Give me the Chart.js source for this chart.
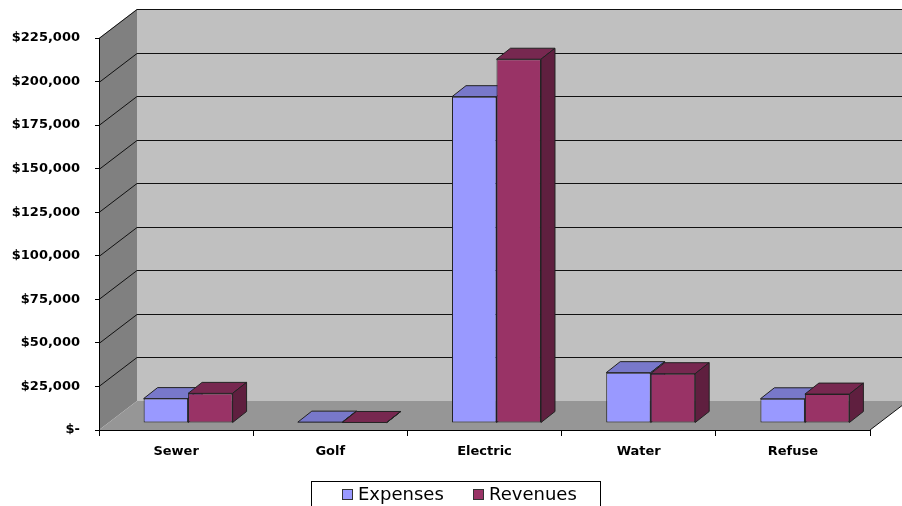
<!DOCTYPE html>
<html>
<head>
<meta charset="utf-8">
<script src="https://cdn.jsdelivr.net/npm/chart.js@4"></script>
<style>
  body { margin: 0; background: #fff; }
</style>
</head>
<body>
<canvas id="chart" width="902" height="506"></canvas>
<script>
const categories = ['Sewer', 'Golf', 'Electric', 'Water', 'Refuse'];
const expenses = [14000, 500, 187300, 28900, 13900];
const revenues = [17000, 300, 208800, 28300, 16600];
const seriesNames = ['Expenses', 'Revenues'];

// oblique depth of the walls, and where the bars sit inside it
const DEPTH_X = 38, DEPTH_Y = -29;
const BAR_SHIFT_X = 12, BAR_SHIFT_Y = -7;
const BAR_DX = 14, BAR_DY = -11;

const faceColors = [
  { front: '#9999FF', top: '#7878CA', side: '#6868B0' },
  { front: '#993366', top: '#772850', side: '#5F1F3F' }
];

function poly(ctx, pts, fill, stroke) {
  ctx.beginPath();
  ctx.moveTo(pts[0][0], pts[0][1]);
  for (let i = 1; i < pts.length; i++) ctx.lineTo(pts[i][0], pts[i][1]);
  ctx.closePath();
  if (fill) { ctx.fillStyle = fill; ctx.fill(); }
  if (stroke) { ctx.strokeStyle = stroke; ctx.lineWidth = 1; ctx.stroke(); }
}

const wallsPlugin = {
  id: 'walls',
  beforeDraw(chart) {
    const ctx = chart.ctx;
    const y = chart.scales.y;
    const a = chart.chartArea;
    const top = y.getPixelForValue(225000), bot = y.getPixelForValue(0);
    const farRight = a.right + DEPTH_X + 10;
    ctx.save();
    // side wall
    poly(ctx, [[a.left, top], [a.left + DEPTH_X, top + DEPTH_Y], [a.left + DEPTH_X, bot + DEPTH_Y], [a.left, bot]], '#808080');
    // back wall
    poly(ctx, [[a.left + DEPTH_X, top + DEPTH_Y], [farRight, top + DEPTH_Y], [farRight, bot + DEPTH_Y], [a.left + DEPTH_X, bot + DEPTH_Y]], '#C0C0C0');
    // floor
    poly(ctx, [[a.left, bot], [a.left + DEPTH_X, bot + DEPTH_Y], [a.right + DEPTH_X, bot + DEPTH_Y], [a.right, bot]], '#969696');
    // gridlines on walls
    ctx.strokeStyle = '#111';
    ctx.lineWidth = 1;
    y.ticks.forEach(t => {
      if (t.value === 0) return;
      const py = Math.round(y.getPixelForValue(t.value)) + 0.5;
      ctx.beginPath();
      ctx.moveTo(a.left, py);
      ctx.lineTo(a.left + DEPTH_X, py + DEPTH_Y);
      ctx.lineTo(farRight, py + DEPTH_Y);
      ctx.stroke();
    });
    // right edge of floor
    ctx.beginPath();
    ctx.moveTo(a.right, bot);
    ctx.lineTo(a.right + DEPTH_X, bot + DEPTH_Y);
    ctx.stroke();
    ctx.restore();
  },
  beforeDatasetsDraw(chart) {
    const ctx = chart.ctx;
    ctx.save();
    ctx.translate(BAR_SHIFT_X, BAR_SHIFT_Y);
    const metas = chart.data.datasets.map((d, i) => chart.getDatasetMeta(i));
    for (let j = 0; j < categories.length; j++) {
      metas.forEach((meta, i) => {
        const bar = meta.data[j];
        const l = bar.x - bar.width / 2, r = bar.x + bar.width / 2;
        const t = bar.y, b = bar.base;
        const c = faceColors[i];
        poly(ctx, [[l, t], [r, t], [r + BAR_DX, t + BAR_DY], [l + BAR_DX, t + BAR_DY]], c.top, '#222');
        poly(ctx, [[r, t], [r + BAR_DX, t + BAR_DY], [r + BAR_DX, b + BAR_DY], [r, b]], c.side, '#222');
      });
    }
    // keep the translation for the front faces drawn by Chart.js
  },
  afterDatasetsDraw(chart) {
    chart.ctx.restore();
  },
  afterDraw(chart) {
    const ctx = chart.ctx;
    ctx.save();
    ctx.strokeStyle = '#000';
    ctx.lineWidth = 1;
    ctx.strokeRect(311.5, 481.5, 289, 40);
    const xs = [342, 473];
    ctx.font = '18px "DejaVu Sans"';
    ctx.textBaseline = 'middle';
    chart.data.datasets.forEach((d, i) => {
      ctx.fillStyle = d.backgroundColor;
      ctx.fillRect(xs[i], 489, 11, 11);
      ctx.strokeStyle = '#333';
      ctx.strokeRect(xs[i] + 0.5, 489.5, 10, 10);
      ctx.fillStyle = '#000';
      ctx.fillText(d.label, xs[i] + 16, 495);
    });
    ctx.restore();
  }
};

Chart.defaults.font.family = '"DejaVu Sans", sans-serif';
Chart.defaults.color = '#000';

new Chart(document.getElementById('chart').getContext('2d'), {
  type: 'bar',
  data: {
    labels: categories,
    datasets: [
      { label: seriesNames[0], data: expenses, backgroundColor: faceColors[0].front },
      { label: seriesNames[1], data: revenues, backgroundColor: faceColors[1].front }
    ]
  },
  options: {
    responsive: false,
    animation: false,
    layout: { padding: { top: 38, right: 32, left: 0, bottom: 0 } },
    datasets: {
      bar: {
        categoryPercentage: 0.577,
        barPercentage: 1,
        borderColor: '#222',
        borderWidth: 1,
        borderSkipped: false,
        clip: false
      }
    },
    plugins: {
      legend: { display: false },
      tooltip: { enabled: false }
    },
    scales: {
      x: {
        offset: true,
        grid: { offset: true, drawOnChartArea: false, tickLength: 6, color: '#000' },
        border: { color: '#000', width: 1 },
        ticks: { font: { size: 13, weight: 'bold' }, padding: 8, maxRotation: 0 },
        afterFit(scale) { scale.height = 76; }
      },
      y: {
        min: 0,
        max: 225000,
        grid: { drawOnChartArea: false, tickLength: 4, color: '#000' },
        border: { color: '#000', width: 1 },
        ticks: {
          stepSize: 25000,
          padding: 15,
          font: { size: 13, weight: 'bold' },
          callback: v => v === 0 ? '$-' : '$' + v.toLocaleString('en-US')
        },
        afterFit(scale) { scale.width = 99; }
      }
    }
  },
  plugins: [wallsPlugin]
});
</script>
</body>
</html>
